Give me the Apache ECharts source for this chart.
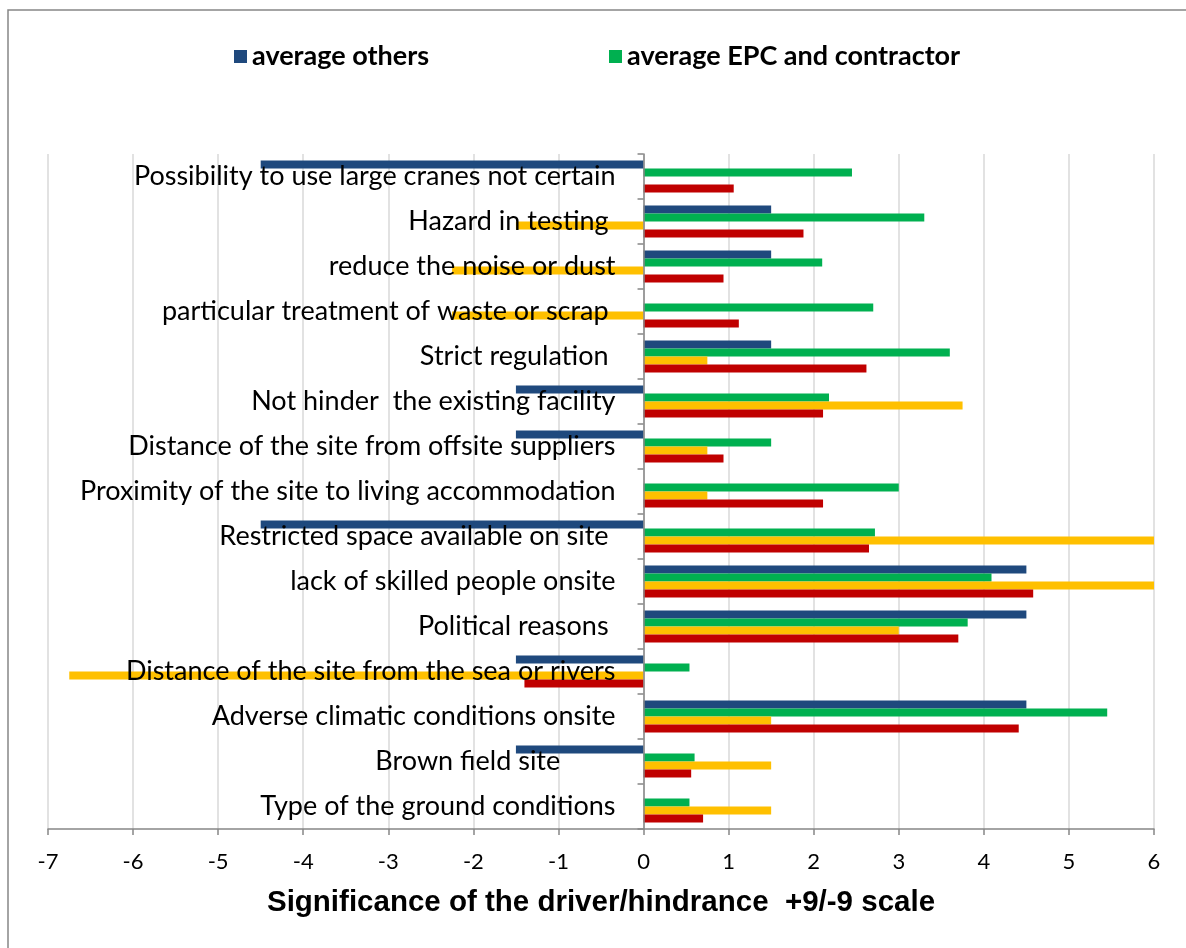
<!DOCTYPE html>
<html>
<head>
<meta charset="utf-8">
<script src="https://cdn.jsdelivr.net/npm/echarts@6/dist/echarts.min.js"></script>
<style>
html,body{margin:0;padding:0;background:#fff;}
#chart{width:1186px;height:948px;}
</style>
</head>
<body>
<div id="chart"></div>
<script>
// categories listed bottom -> top (category axis starts at the bottom)
var categories = [
	'Type of the ground conditions',
	'Brown field site        ',
	'Adverse climatic conditions onsite',
	'Distance of the site from the sea or rivers',
	'Political reasons ',
	'lack of skilled people onsite',
	'Restricted space available on site ',
	'Proximity of the site to living accommodation',
	'Distance of the site from offsite suppliers',
	'Not hinder  the existing facility',
	'Strict regulation ',
	'particular treatment of waste or scrap ',
	'reduce the noise or dust',
	'Hazard in testing ',
	'Possibility to use large cranes not certain'
];
var avgOthers = [0, -1.5, 4.5, -1.5, 4.5, 4.5, -4.5, 0, -1.5, -1.5, 1.5, 0, 1.5, 1.5, -4.5];
var avgEPC = [0.54, 0.6, 5.45, 0.54, 3.81, 4.09, 2.72, 3.0, 1.5, 2.18, 3.6, 2.7, 2.1, 3.3, 2.45];
var series3 = [1.5, 1.5, 1.5, -6.75, 3.0, 6, 6, 0.75, 0.75, 3.75, 0.75, -2.25, -2.25, -1.5, 0];
var series4 = [0.7, 0.56, 4.41, -1.4, 3.7, 4.58, 2.65, 2.11, 0.94, 2.11, 2.62, 1.12, 0.94, 1.88, 1.06];
var xTicks = [-7, -6, -5, -4, -3, -2, -1, 0, 1, 2, 3, 4, 5, 6];

var gridLeft = 48, gridRight = 32;
var xMin = xTicks[0], xMax = xTicks[xTicks.length - 1];
// labels sit next to the zero line, not at the grid edge
var zeroX = gridLeft + (0 - xMin) * (1186 - gridLeft - gridRight) / (xMax - xMin);
var labelMargin = -(zeroX - gridLeft - 28);

var myChart = echarts.init(document.getElementById('chart'));
var axisGray = '#868686';
var legendText = {fontFamily: 'Lato', fontWeight: 'bold', fontSize: 27, color: '#000'};
var option = {
	backgroundColor: '#fff',
	animation: false,
	graphic: [{
		type: 'rect',
		shape: {x: 8, y: 10, width: 1200, height: 960},
		style: {fill: 'none', stroke: axisGray, lineWidth: 1.5},
		silent: true
	}],
	legend: [
		{
			data: ['average others'],
			left: 234, top: 43, padding: 0,
			icon: 'rect', itemWidth: 13, itemHeight: 13, itemGap: 0,
			textStyle: legendText
		},
		{
			data: ['average EPC and contractor'],
			left: 609, top: 43, padding: 0,
			icon: 'rect', itemWidth: 13, itemHeight: 13, itemGap: 0,
			textStyle: legendText
		}
	],
	grid: {left: gridLeft, right: gridRight, top: 154, bottom: 119, containLabel: false, outerBoundsMode: 'none'},
	xAxis: {
		type: 'value',
		min: xMin,
		max: xMax,
		interval: 1,
		name: 'Significance of the driver/hindrance  +9/-9 scale',
		nameLocation: 'middle',
		nameGap: 59,
		nameTextStyle: {fontFamily: 'Liberation Sans', fontWeight: 'bold', fontSize: 29.5, color: '#000'},
		axisLine: {show: true, lineStyle: {color: axisGray, width: 1.5}},
		axisTick: {show: true, length: 6, lineStyle: {color: axisGray, width: 1.5}},
		axisLabel: {fontFamily: 'Lato', fontSize: 22, color: '#000', margin: 22},
		splitLine: {show: true, lineStyle: {color: '#d9d9d9', width: 1.5}}
	},
	yAxis: {
		type: 'category',
		data: categories,
		z: 10,
		axisLine: {show: true, onZero: true, lineStyle: {color: axisGray, width: 1.5}},
		axisTick: {show: true, length: 6, lineStyle: {color: axisGray, width: 1.5}},
		axisLabel: {fontFamily: 'Lato', fontSize: 27, color: '#000', margin: labelMargin, align: 'right'},
		splitLine: {show: false}
	},
	series: [
		{name: 'average others', type: 'bar', data: avgOthers, barWidth: 8, barGap: '0%', itemStyle: {color: '#1F497D'}},
		{name: 'average EPC and contractor', type: 'bar', data: avgEPC, barWidth: 8, barGap: '0%', itemStyle: {color: '#00B050'}},
		{name: 'series 3', type: 'bar', data: series3, barWidth: 8, barGap: '0%', itemStyle: {color: '#FFC000'}},
		{name: 'series 4', type: 'bar', data: series4, barWidth: 8, barGap: '0%', itemStyle: {color: '#C00000'}}
	]
};
myChart.setOption(option);
</script>
</body>
</html>
